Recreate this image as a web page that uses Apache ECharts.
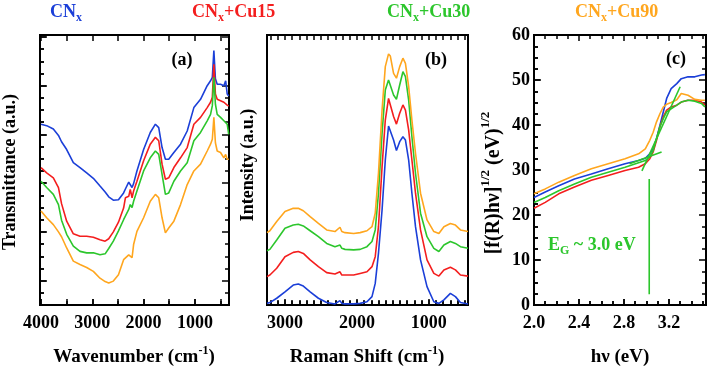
<!DOCTYPE html>
<html>
<head>
<meta charset="utf-8">
<script src="https://cdn.jsdelivr.net/npm/echarts@6/dist/echarts.min.js"></script>
<style>html,body{margin:0;padding:0;background:#fff}#main{width:709px;height:370px}</style>
</head>
<body>
<div id="main"></div>
<script>
// (a) FTIR, wavenumber (cm-1) vs transmittance (a.u., stacked)
let wnA = [4000, 3890, 3760, 3660, 3600, 3500, 3370, 3240, 3110, 2980, 2850, 2750, 2680, 2590, 2490, 2390, 2355, 2290, 2260, 2225, 2195, 2130, 2000, 1870, 1770, 1705, 1640, 1575, 1510, 1410, 1280, 1150, 1020, 890, 760, 695, 660, 630, 600, 565, 500, 435, 400, 370, 340];
let ftirCN = [32.1, 31.8, 31.1, 29.8, 28.5, 26.9, 24.2, 23.2, 22.1, 21.0, 19.4, 18.2, 17.2, 16.5, 16.6, 18.0, 18.8, 20.2, 20.6, 19.1, 19.9, 22.5, 26.9, 30.4, 32.1, 31.4, 27.3, 24.9, 24.9, 26.3, 28.0, 30.7, 35.5, 37.2, 40.0, 41.0, 41.7, 47.2, 41.4, 40.3, 40.3, 40.0, 41.0, 38.3, 37.9];
let ftirCu15 = [23.2, 22.1, 21.1, 19.1, 15.8, 12.2, 9.6, 9.1, 9.1, 8.9, 8.4, 8.1, 8.6, 10.0, 12.0, 14.9, 17.0, 17.3, 18.7, 17.0, 18.4, 20.4, 24.6, 28.0, 29.4, 28.7, 23.9, 20.8, 21.1, 23.2, 25.2, 27.3, 32.1, 33.5, 35.5, 36.6, 37.6, 44.4, 38.3, 37.2, 36.9, 36.6, 36.4, 36.0, 35.8];
let ftirCu30 = [20.4, 19.1, 17.7, 15.6, 12.4, 9.5, 7.1, 6.0, 5.7, 5.7, 5.3, 5.5, 6.6, 8.1, 10.2, 12.5, 12.9, 14.6, 15.6, 15.0, 16.3, 18.4, 22.5, 25.2, 26.6, 25.9, 21.8, 17.7, 18.0, 20.4, 22.5, 24.2, 28.7, 30.4, 32.8, 34.1, 35.9, 41.7, 36.2, 34.1, 33.5, 32.8, 32.5, 32.1, 30.0];
let ftirCu90 = [14.3, 12.9, 11.5, 10.0, 9.0, 6.7, 4.0, 3.3, 2.7, 1.9, 0.5, -0.2, -0.5, -0.1, 1.2, 4.3, 4.7, 5.3, 5.7, 4.7, 7.4, 10.1, 12.9, 16.3, 17.7, 17.0, 12.9, 9.8, 10.8, 12.2, 15.6, 19.7, 22.5, 23.9, 26.6, 28.0, 29.0, 33.5, 28.3, 26.6, 26.3, 25.2, 25.9, 24.9, 24.9];

// (b) Raman shift (cm-1) vs intensity (a.u.)
let wnB = [3250, 3210, 3115, 3000, 2885, 2815, 2745, 2650, 2535, 2420, 2305, 2235, 2210, 2165, 2045, 1955, 1860, 1790, 1745, 1700, 1650, 1605, 1560, 1535, 1490, 1450, 1405, 1360, 1325, 1280, 1235, 1185, 1115, 1025, 930, 860, 790, 700, 630, 560, 455];
let ramanCN = [0.6, 0.9, 2.5, 4.9, 7.4, 7.8, 7.0, 4.9, 2.5, 0.9, 0.4, 1.6, 0.6, 0.4, 0.4, 0.6, 1.2, 3.1, 8.0, 19.1, 35.2, 53.7, 66.3, 66.0, 61.1, 57.2, 60.5, 62.3, 61.1, 53.7, 41.4, 29.0, 16.7, 6.8, 1.2, 0.6, 1.9, 4.3, 3.1, 0.9, 0.4];
let ramanCu15 = [10.5, 11.1, 13.6, 17.9, 19.5, 19.8, 19.1, 16.7, 14.2, 12.0, 11.5, 12.3, 11.1, 11.1, 11.1, 11.7, 12.3, 14.2, 17.9, 29.0, 51.2, 68.5, 76.5, 75.9, 69.8, 67.0, 71.0, 74.1, 72.2, 64.8, 53.7, 41.4, 27.8, 16.7, 11.7, 10.7, 13.0, 14.0, 13.0, 11.1, 10.7];
let ramanCu30 = [20.1, 20.6, 24.1, 28.4, 29.6, 29.9, 29.3, 27.5, 25.3, 22.8, 21.6, 22.2, 21.0, 20.6, 20.4, 20.6, 21.6, 23.5, 27.8, 41.4, 63.6, 79.6, 83.3, 82.7, 77.8, 76.2, 81.5, 86.4, 84.6, 75.9, 62.3, 48.8, 34.0, 25.3, 21.0, 19.8, 22.2, 23.5, 22.8, 21.6, 21.0];
let ramanCu90 = [26.8, 27.5, 30.9, 34.6, 35.8, 35.8, 34.9, 32.7, 30.2, 27.8, 27.2, 28.8, 27.2, 26.8, 26.5, 26.8, 27.5, 29.0, 34.0, 48.8, 72.2, 88.3, 93.0, 92.2, 85.8, 84.0, 88.3, 91.4, 89.5, 80.9, 68.5, 56.2, 41.4, 31.5, 27.2, 26.5, 29.0, 30.2, 29.6, 27.8, 27.2];

// (c) Tauc plot, hv (eV) vs [f(R)hv]^1/2
let ev = [2.00, 2.10, 2.22, 2.36, 2.51, 2.66, 2.81, 2.93, 2.99, 3.03, 3.06, 3.09, 3.12, 3.15, 3.18, 3.22, 3.27, 3.31, 3.37, 3.43, 3.49, 3.52];
let taucCN = [23.9, 25.1, 26.5, 28.0, 29.1, 30.3, 31.4, 32.1, 32.6, 33.6, 34.7, 37.0, 39.9, 42.9, 45.9, 48.1, 49.2, 50.3, 50.7, 50.7, 51.1, 51.2];
let taucCu15 = [21.5, 22.8, 24.7, 26.2, 27.7, 28.8, 29.9, 30.6, 31.4, 32.5, 34.0, 36.6, 39.6, 41.8, 43.3, 44.0, 44.4, 45.1, 45.5, 45.5, 45.1, 44.4];
let taucCu30 = [22.8, 23.9, 25.4, 26.9, 28.4, 29.5, 30.6, 31.6, 32.1, 32.9, 34.3, 37.0, 39.6, 41.4, 42.9, 43.6, 44.4, 45.1, 45.5, 45.3, 44.8, 44.0];
let taucCu90 = [24.7, 25.8, 27.3, 28.8, 30.3, 31.4, 32.5, 33.6, 34.7, 36.6, 38.4, 40.7, 42.5, 44.0, 44.6, 45.0, 45.6, 47.0, 46.6, 45.7, 45.5, 45.5];
let fitSteep = [[2.96, 29.8], [3.30, 48.5]];
let fitFlat = [[2.85, 31.4], [3.135, 34.0]];
let gapMark = [[3.025, 2.4], [3.025, 28.0]];

// tick labels
let ticksA = [4000, 3000, 2000, 1000];
let ticksB = [3000, 2000, 1000];
let ticksCx = ['2.0', '2.4', '2.8', '3.2'];
let ticksCy = [0, 10, 20, 30, 40, 50, 60];

let sampleNames = ['CN', 'CN+Cu15', 'CN+Cu30', 'CN+Cu90'];
let colors = ['#1b3fd8', '#f41e1e', '#2cc62c', '#ffa61e'];
let FONT = 'Liberation Serif';

let chart = echarts.init(document.getElementById('main'));

function pairs(xs, ys) { return xs.map((x, i) => [x, ys[i]]); }
function curve(gi, data, color) {
    return { type: 'line', xAxisIndex: gi, yAxisIndex: gi, data: data, showSymbol: false,
        lineStyle: { color: color, width: 1.6 }, itemStyle: { color: color } };
}
function lab(o) { return Object.assign({ show: true, fontFamily: FONT, fontWeight: 'bold', fontSize: 18, color: '#000' }, o); }
function edge() { return { show: true, onZero: false, lineStyle: { color: '#000', width: 2 } }; }
function black() { return { color: '#000', width: 1.5 }; }

// axis scales, shared by the plot axis and its tick strips
let scaleA = { inverse: true, min: 335, max: 4020, splitNumber: 4 };
let scaleB = { inverse: true, min: 455, max: 3250, splitNumber: 3 };
let scaleC = { min: 2.0, max: 3.53, interval: 0.4 };
let scaleAy = { min: -5, max: 50.4, splitNumber: 5 };
let scaleCy = { min: 0, max: 60, interval: 10 };

let grids = [], xAxes = [], yAxes = [];
function addGrid(rect, xa, ya) {
    let gi = grids.length;
    grids.push(rect);
    xAxes.push(Object.assign({ gridIndex: gi, type: 'value' }, xa));
    yAxes.push(Object.assign({ gridIndex: gi, type: 'value' }, ya));
    return gi;
}
function hidden() {
    return { min: 0, max: 1, axisLine: { show: false }, axisTick: { show: false }, axisLabel: { show: false }, splitLine: { show: false } };
}
// a thin strip along a frame edge; its split lines are the tick marks, placed by the axis scale
function tickAxis(scale, major, minorN) {
    return Object.assign({ axisLine: { show: false, onZero: false }, axisTick: { show: false }, axisLabel: { show: false },
        splitLine: { show: major, lineStyle: black() },
        minorTick: { show: false, splitNumber: minorN || 2 }, minorSplitLine: { show: !!minorN, lineStyle: black() } }, scale);
}
function plotAxis(scale, label, minorN) {
    return Object.assign({ axisLine: edge(), splitLine: { show: false },
        axisTick: { show: true, inside: true, length: 6, lineStyle: black() },
        minorTick: { show: !!minorN, splitNumber: minorN || 2, length: 4, lineStyle: black() },
        axisLabel: label || { show: false } }, scale);
}
let frame = { show: true, borderColor: '#000', borderWidth: 2 };

// panel (a): frame 40..229 x 35..305
let gA = addGrid(Object.assign({ left: 40, top: 35, width: 189, height: 270 }, frame),
    plotAxis(scaleA, lab({ margin: 9, formatter: v => ticksA.includes(v) ? String(v) : '' }), 2),
    plotAxis(scaleAy, null, 4));
addGrid({ left: 40, top: 299, width: 189, height: 6 }, tickAxis(scaleA, true, 2), hidden());
addGrid({ left: 40, top: 35, width: 189, height: 6 }, tickAxis(scaleA, true, 2), hidden());
addGrid({ left: 40, top: 35, width: 7, height: 270 }, hidden(), tickAxis(scaleAy, true, 0));
addGrid({ left: 40, top: 35, width: 4, height: 270 }, hidden(), tickAxis(scaleAy, false, 4));
addGrid({ left: 222, top: 35, width: 7, height: 270 }, hidden(), tickAxis(scaleAy, true, 0));
addGrid({ left: 225, top: 35, width: 4, height: 270 }, hidden(), tickAxis(scaleAy, false, 4));

// panel (b): frame 267..468 x 35..305, ticks only on bottom and top
let gB = addGrid(Object.assign({ left: 267, top: 35, width: 201, height: 270 }, frame),
    plotAxis(scaleB, lab({ margin: 9, formatter: v => ticksB.includes(v) ? String(v) : '' }), 10),
    Object.assign(hidden(), { min: 0, max: 100 }));
addGrid({ left: 267, top: 300, width: 201, height: 5 }, tickAxis(scaleB, true, 10), hidden());
addGrid({ left: 267, top: 35, width: 201, height: 5 }, tickAxis(scaleB, true, 10), hidden());

// panel (c): frame 534..706 x 35..305
let gC = addGrid(Object.assign({ left: 534, top: 35, width: 172, height: 270 }, frame),
    plotAxis(scaleC, lab({ margin: 9, formatter: v => ticksCx.includes(v.toFixed(1)) && Math.abs(v * 10 - Math.round(v * 10)) < 1e-6 ? v.toFixed(1) : '' }), 4),
    plotAxis(scaleCy, lab({ margin: 4, formatter: v => ticksCy.includes(v) ? String(v) : '' }), 4));
addGrid({ left: 534, top: 299, width: 172, height: 6 }, tickAxis(scaleC, true, 0), hidden());
addGrid({ left: 534, top: 301, width: 172, height: 4 }, tickAxis(scaleC, false, 4), hidden());
addGrid({ left: 534, top: 35, width: 172, height: 6 }, tickAxis(scaleC, true, 0), hidden());
addGrid({ left: 534, top: 35, width: 172, height: 4 }, tickAxis(scaleC, false, 4), hidden());
addGrid({ left: 534, top: 35, width: 7, height: 270 }, hidden(), tickAxis(scaleCy, true, 0));
addGrid({ left: 534, top: 35, width: 4, height: 270 }, hidden(), tickAxis(scaleCy, false, 4));
addGrid({ left: 699, top: 35, width: 7, height: 270 }, hidden(), tickAxis(scaleCy, true, 0));
addGrid({ left: 702, top: 35, width: 4, height: 270 }, hidden(), tickAxis(scaleCy, false, 4));

let series = [];
[ftirCN, ftirCu15, ftirCu30, ftirCu90].forEach((ys, i) => series.push(curve(gA, pairs(wnA, ys), colors[i])));
[ramanCN, ramanCu15, ramanCu30, ramanCu90].forEach((ys, i) => series.push(curve(gB, pairs(wnB, ys), colors[i])));
[taucCN, taucCu15, taucCu30, taucCu90].forEach((ys, i) => series.push(curve(gC, pairs(ev, ys), colors[i])));
series.push(curve(gC, fitSteep, colors[2]));
series.push(curve(gC, fitFlat, colors[2]));
series.push(curve(gC, gapMark, colors[2]));

// text helpers
function rt(size, color, extra) {
    return Object.assign({ fontFamily: FONT, fontWeight: 'bold', fontSize: size, fill: color, lineHeight: Math.round(size * 1.25) }, extra || {});
}
function txt(x, y, text, rich, align, rot) {
    return { type: 'text', x: x, y: y, rotation: rot || 0, silent: true,
        style: { text: text, rich: rich, fontFamily: FONT, fontWeight: 'bold', align: align || 'center', verticalAlign: 'middle' } };
}
let legendX = [50, 192, 387, 575];
let graphic = [];
sampleNames.forEach((nm, i) => {
    let rest = nm.slice(2);
    graphic.push(txt(legendX[i], 12, '{m|CN}{s|x}' + (rest ? '{m|' + rest + '}' : ''),
        { m: rt(18, colors[i]), s: rt(12, colors[i], { verticalAlign: 'bottom', lineHeight: 14 }) }, 'left'));
});
let blk = { m: rt(18, '#000') };
let sup = rt(12, '#000', { verticalAlign: 'top', lineHeight: 13 });
graphic.push(txt(182, 60, '{m|(a)}', blk));
graphic.push(txt(436, 60, '{m|(b)}', blk));
graphic.push(txt(676, 59, '{m|(c)}', blk));
graphic.push(txt(134, 357, '{m|Wavenumber (cm}{s|-1}{m|)}', { m: rt(19, '#000'), s: sup }));
graphic.push(txt(367, 357, '{m|Raman Shift (cm}{s|-1}{m|)}', { m: rt(19, '#000'), s: sup }));
graphic.push(txt(620, 357, '{m|hν (eV)}', { m: rt(19, '#000') }));
graphic.push(txt(10, 172, '{m|Transmittance (a.u.)}', { m: rt(18, '#000') }, 'center', Math.PI / 2));
graphic.push(txt(248, 165, '{m|Intensity (a.u.)}', { m: rt(18, '#000') }, 'center', Math.PI / 2));
graphic.push(txt(494, 183, '{m|[f(R)hν]}{s|1/2}{m| (eV)}{s|1/2}', { m: rt(20, '#000', { lineHeight: 30 }), s: rt(13, '#000', { verticalAlign: 'top', lineHeight: 14 }) }, 'center', Math.PI / 2));
graphic.push(txt(548, 245, '{m|E}{s|G}{m| ~ 3.0 eV}', { m: rt(18, colors[2]), s: rt(12, colors[2], { verticalAlign: 'bottom', lineHeight: 14 }) }, 'left'));

chart.setOption({
    animation: false,
    grid: grids,
    xAxis: xAxes,
    yAxis: yAxes,
    series: series,
    graphic: graphic
});
</script>
</body>
</html>
